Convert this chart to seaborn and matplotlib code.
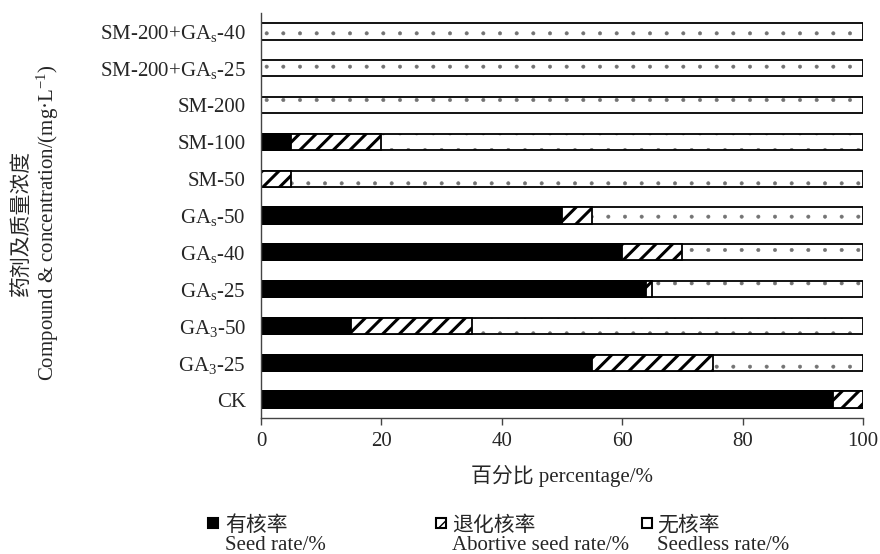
import numpy as np
import pandas as pd
import matplotlib
matplotlib.use("Agg")
import matplotlib.pyplot as plt
import seaborn as sns
from matplotlib.patches import Rectangle

# ---------------- data ----------------
categories = ["SM-200+GA$_\\mathrm{s}$-40", "SM-200+GA$_\\mathrm{s}$-25", "SM-200", "SM-100", "SM-50",
              "GA$_\\mathrm{s}$-50", "GA$_\\mathrm{s}$-40", "GA$_\\mathrm{s}$-25", "GA$_3$-50", "GA$_3$-25", "CK"]
seed_rate = [0, 0, 0, 5, 0, 50, 60, 64, 15, 55, 95]
abortive_rate = [0, 0, 0, 15, 5, 5, 10, 1, 20, 20, 5]
seedless_rate = [100, 100, 100, 80, 95, 45, 30, 35, 65, 25, 0]
x_ticks = [0, 20, 40, 60, 80, 100]
legend_cn = ["有核率", "退化核率", "无核率"]
legend_en = ["Seed rate/%", "Abortive seed rate/%", "Seedless rate/%"]

# ---------------- style ----------------
sns.set_style("ticks")
FAM = ["Liberation Serif", "Noto Sans CJK SC"]
plt.rcParams["font.family"] = FAM
plt.rcParams["mathtext.fontset"] = "custom"
plt.rcParams["mathtext.rm"] = "Liberation Serif"
plt.rcParams["mathtext.it"] = "Liberation Serif:italic"
plt.rcParams["mathtext.bf"] = "Liberation Serif:bold"
FS = 15

df = pd.DataFrame({"cat": categories,
                   "seed": seed_rate,
                   "abort": abortive_rate,
                   "less": seedless_rate})
df["cum2"] = df["seed"] + df["abort"]
df["cum3"] = df["cum2"] + df["less"]

W, H, DPI = 880, 554, 100
fig = plt.figure(figsize=(W / DPI, H / DPI), dpi=DPI)
ax = fig.add_axes([261 / W, 1 - 418 / H, (863 - 261) / W, (418 - 13) / H])

layers = [("cum3", "white", ".", 0.4, (0.45, 0.45, 0.45, 1.0)),
          ("cum2", "white", "//", 2.2, None),
          ("seed", "black", None, 1.0, None)]
for col, fc, hatch, hlw, hcol in layers:
    n0 = len(ax.patches)
    with plt.rc_context({"hatch.linewidth": hlw}):
        sns.barplot(data=df, y="cat", x=col, orient="h", color=fc, saturation=1,
                    edgecolor="black", linewidth=1.3, hatch=hatch, width=0.44,
                    errorbar=None, ax=ax)
    for p in ax.patches[n0:]:
        if hasattr(p, "set_hatch_linewidth"):
            p.set_hatch_linewidth(hlw)
        if hcol is not None:
            p._hatch_color = hcol

ax.set_xlim(0, 100)
ax.set_ylim(len(categories) - 0.5, -0.5)
ax.set_xticks(x_ticks)
ax.set_xticklabels([str(t) for t in x_ticks])
ax.tick_params(axis="x", length=5, width=1, color="#444444", pad=5, labelsize=FS)
ax.tick_params(axis="y", length=0, pad=11, labelsize=FS)
for s in ["top", "right"]:
    ax.spines[s].set_visible(False)
for s in ["left", "bottom"]:
    ax.spines[s].set_color("#444444")
    ax.spines[s].set_linewidth(1.0)
ax.set_ylabel("")
ax.set_xlabel("百分比 percentage/%", fontsize=FS, labelpad=10)

# y label (two lines)
fig.text(22 / W, 1 - 223 / H, "药剂及质量浓度", rotation=90, ha="center", va="center",
         fontsize=FS, family=FAM)
fig.text(48 / W, 1 - 223 / H, "Compound & concentration/(mg·L$^{-1}$)", rotation=90,
         ha="center", va="center", fontsize=FS, family=FAM)

# legend (manual)
marker_x = [208, 436, 642]
text_x = [225, 452, 657]
styles = [("black", None), ("white", "//"), ("white", None)]
for mx, tx, (fc, hh), cn, en in zip(marker_x, text_x, styles, legend_cn, legend_en):
    r = Rectangle((mx / W, 1 - 528 / H), 10 / W, 10 / H, transform=fig.transFigure,
                  facecolor=fc, edgecolor="black", linewidth=1.5, hatch=hh)
    fig.add_artist(r)
    fig.text(tx / W, 1 - 526 / H, cn, ha="left", va="center", fontsize=FS, family=FAM)
    fig.text(tx / W, 1 - 545 / H, en, ha="left", va="center", fontsize=FS, family=FAM)

fig.savefig("out.png", dpi=DPI)
